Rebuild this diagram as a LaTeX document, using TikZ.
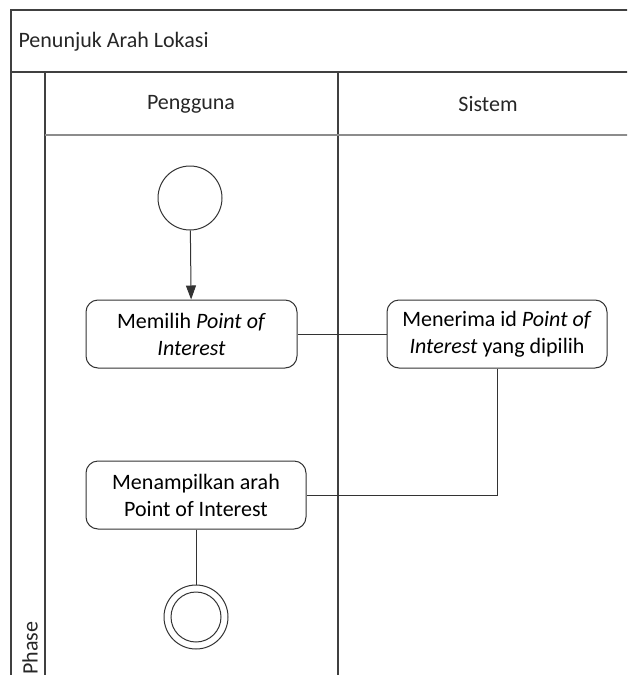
\documentclass[tikz,border=0pt]{standalone}
\usepackage{fontspec}
\setmainfont{Carlito}
\usetikzlibrary{arrows.meta}
\begin{document}
\begin{tikzpicture}[x=1pt,y=-1pt,
  frame/.style={draw=black!75,line width=1.3pt},
  lbl/.style={font=\fontsize{22}{26}\selectfont,text=black!85},
  action/.style={draw=black!80,line width=1pt,rounded corners=12pt,fill=white,
    align=center,font=\fontsize{22}{27}\selectfont,inner sep=0pt},
  flow/.style={draw=black!80,line width=1pt},
  startnode/.style={circle,draw=black!80,line width=1pt,minimum size=64pt,inner sep=0pt},
]
\useasboundingbox (0,0) rectangle (627,675);
\clip (0,0) rectangle (627,675);
% pool frame, title row, phase column and lane headers
\draw[frame] (700,10) -- (11,10) -- (11,700);
\draw[frame] (11,72) -- (700,72);
\draw[frame] (45,72) -- (45,700);
\draw[frame] (338,72) -- (338,700);
\draw[draw=black!45,line width=2pt] (45,135) -- (700,135);
\node[lbl,anchor=west] (title) at (15,42) {Penunjuk Arah Lokasi};
\node[lbl] (lane1) at (191,104) {Pengguna};
\node[lbl] (lane2) at (488,104) {Sistem};
\node[lbl,rotate=90,anchor=west] (phase) at (30,678) {Phase};
% activity nodes
\node[startnode] (start) at (190,198) {};
\node[action,minimum width=211pt,minimum height=68pt] (a1) at (191.5,334)
  {Memilih \textit{Point of}\\\textit{Interest}};
\node[action,minimum width=220pt,minimum height=68pt] (a2) at (497,334)
  {Menerima id \textit{Point of}\\\textit{Interest} yang dipilih};
\node[action,minimum width=220pt,minimum height=68pt] (a3) at (196,495)
  {Menampilkan arah\\Point of Interest};
\node[circle,draw=black!80,line width=1pt,minimum size=64pt,inner sep=0pt] (stop) at (196,617) {};
\node[circle,draw=black!80,line width=1pt,minimum size=50pt,inner sep=0pt] (stopin) at (196,617) {};
% connectors
\draw[flow,-{Triangle[length=14pt,width=10pt]}] (start) -- (a1);
\draw[flow] (a1) -- (a2);
\draw[flow] (a2.south) |- (a3.east);
\draw[flow] (a3) -- (stop);
\end{tikzpicture}
\end{document}
